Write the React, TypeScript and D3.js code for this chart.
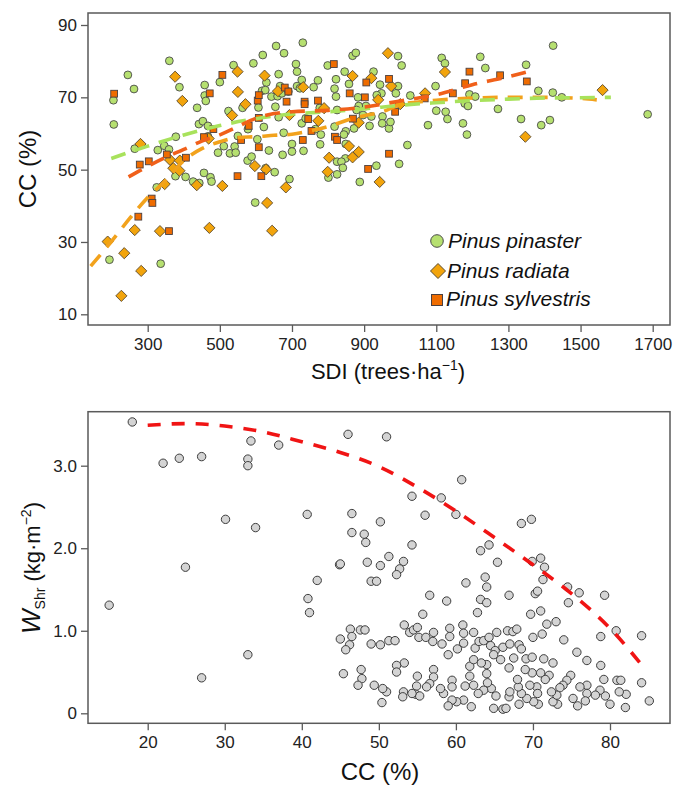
import React, { useEffect, useRef } from 'react'
import * as d3 from 'd3'

// --- top panel: SDI (trees/ha) vs canopy cover CC (%) ---
const pinaster: [number, number][] = [
  [205, 69.2], [206, 62.5], [245, 76.2], [262, 72.3], [264, 55.8], [328, 55.4], [346, 56.6], [359, 55.6],
  [360, 80.1], [388, 72.8], [378, 59.1], [377, 48.2], [325, 45.1], [194, 25.1], [336, 24.0], [405, 48.0],
  [426, 46.7], [443, 46.3], [437, 67.1], [458, 73.4], [458, 70.5], [461, 69.0], [442, 62.6], [453, 63.4],
  [467, 62.1], [467, 59.2], [456, 49.1], [474, 47.9], [477, 46.7], [495, 54.7], [511, 56.5], [500, 74.2],
  [524, 66.2], [538, 78.9], [528, 54.5], [541, 56.4], [544, 54.7], [550, 59.3], [563, 67.1], [578, 61.2],
  [577, 52.5], [588, 53.6], [593, 79.4], [598, 40.9], [607, 67.2], [604, 58.4], [619, 81.7], [617, 71.8],
  [629, 74.1], [626, 72.0], [622, 61.8], [627, 50.4], [643, 70.2], [636, 55.3], [656, 84.2], [663, 76.4],
  [667, 73.1], [660, 70.3], [654, 67.4], [663, 64.5], [652, 49.3], [678, 82.2], [672, 71.1], [677, 60.2],
  [674, 54.1], [690, 71.6], [693, 47.4], [700, 57.1], [700, 55.0], [711, 79.2], [714, 77.1], [714, 73.1],
  [722, 72.5], [727, 74.8], [730, 85.1], [727, 62.8], [732, 55.2], [738, 64.2], [760, 72.8], [772, 74.7],
  [778, 57.0], [777, 67.1], [765, 61.2], [780, 59.7], [799, 78.8], [801, 47.8], [822, 75.0], [818, 72.4],
  [822, 70.2], [825, 66.5], [818, 61.9], [825, 52.2], [825, 48.7], [846, 77.1], [858, 73.7], [868, 81.5],
  [877, 82.3], [883, 70.0], [926, 77.1], [944, 73.5], [948, 71.1], [935, 70.6], [951, 64.7], [950, 62.8],
  [969, 61.4], [973, 63.2], [994, 73.1], [994, 81.4], [1004, 78.8], [988, 71.1], [1028, 70.5], [920, 64.7],
  [915, 62.1], [897, 65.1], [905, 67.6], [885, 67.6], [879, 66.5], [872, 61.4], [849, 60.6], [844, 59.7],
  [849, 57.1], [848, 53.1], [837, 52.2], [841, 50.5], [934, 51.1], [997, 51.6], [1020, 56.8], [888, 46.6],
  [1100, 66.3], [1098, 73.1], [1115, 80.9], [1124, 79.4], [1126, 66.0], [1131, 64.0], [1077, 62.3],
  [1192, 70.8], [1208, 70.2], [1179, 68.3], [1188, 67.6], [1174, 62.8], [1185, 59.7], [1222, 81.2],
  [1236, 78.1], [1271, 66.8], [1349, 79.0], [1335, 64.0], [1383, 71.8], [1391, 62.3], [1415, 63.7],
  [1424, 84.3], [1423, 71.3], [1448, 70.0], [1686, 65.3],
]

const radiata: [number, number][] = [
  [280, 57.1], [362, 52.7], [376, 75.7], [396, 69.0], [371, 50.4], [388, 49.7], [389, 52.5], [347, 46.0],
  [264, 33.3], [334, 33.0], [189, 30.1], [235, 26.9], [282, 22.0], [227, 15.1], [436, 45.7], [469, 58.6],
  [471, 33.9], [507, 45.5], [534, 65.0], [549, 77.1], [550, 71.5], [571, 68.1], [597, 51.0], [624, 76.0],
  [628, 50.1], [631, 40.8], [645, 33.1], [661, 71.7], [683, 45.1], [693, 65.1], [731, 72.8], [773, 63.5],
  [789, 67.0], [803, 53.3], [799, 49.4], [868, 75.9], [920, 75.3], [939, 69.3], [975, 73.1], [966, 82.2],
  [1000, 68.1], [885, 63.0], [858, 56.5], [885, 54.9], [868, 53.4], [943, 46.6], [1124, 77.0], [1069, 71.1],
  [1347, 59.1], [1561, 72.0],
]

const sylvestris: [number, number][] = [
  [207, 71.0], [278, 51.4], [303, 52.3], [353, 54.2], [406, 53.3], [311, 42.0], [313, 40.8], [274, 37.0],
  [359, 33.0], [472, 71.1], [456, 59.0], [482, 61.2], [507, 76.2], [549, 48.2], [559, 58.2], [580, 62.1],
  [605, 69.1], [608, 70.6], [608, 64.3], [608, 56.2], [615, 48.2], [680, 72.7], [685, 68.8], [690, 71.6],
  [735, 68.8], [735, 68.1], [730, 58.2], [745, 64.0], [754, 60.7], [772, 69.1], [816, 79.2], [819, 59.1],
  [825, 58.2], [860, 71.1], [902, 70.0], [906, 74.1], [969, 75.1], [986, 66.0], [869, 64.1], [911, 50.2],
  [969, 54.4], [1068, 69.7], [1146, 71.1], [1180, 73.9], [1192, 77.1], [1277, 76.1], [1351, 74.4],
]

// fitted curves (dashed)
const pinasterFit: [number, number][] = [
  [199, 53.1], [300, 56.5], [400, 59.6], [500, 62.2], [600, 64.1], [700, 65.4], [800, 66.0], [900, 66.8],
  [1000, 67.8], [1100, 68.5], [1200, 69.1], [1300, 69.5], [1400, 69.8], [1500, 69.9], [1584, 70.0],
]
const radiataFit: [number, number][] = [
  [142, 23.3], [200, 30.2], [250, 36.5], [300, 42.3], [350, 47.0], [400, 52.5], [450, 55.8], [500, 57.7],
  [550, 58.9], [600, 59.1], [650, 59.5], [700, 59.8], [750, 60.7], [800, 61.9], [850, 63.6], [900, 64.9],
  [950, 66.0], [1000, 68.0], [1050, 68.7], [1100, 69.2], [1200, 69.8], [1300, 70.0], [1400, 70.0],
  [1500, 69.7], [1545, 69.3],
]
const sylvestrisFit: [number, number][] = [
  [247, 48.0], [300, 50.9], [350, 53.4], [400, 55.6], [450, 57.9], [500, 59.6], [550, 61.9], [600, 64.2],
  [650, 65.5], [700, 66.0], [800, 66.4], [900, 67.3], [1000, 69.0], [1100, 70.7], [1200, 73.5], [1300, 75.7],
  [1351, 77.0],
]

const sdiTicks = [300, 500, 700, 900, 1100, 1300, 1500, 1700]
const ccTicks = [10, 30, 50, 70, 90]

// --- bottom panel: CC (%) vs shrub biomass W_Shr (kg/m2) ---
const shrub: [number, number][] = [
  [18.0, 3.53], [15.0, 1.31], [22.0, 3.03], [24.1, 3.09], [27.0, 3.11], [24.9, 1.77], [27.0, 0.43], [30.1, 2.35],
  [33.4, 3.30], [33.0, 3.08], [33.0, 3.00], [34.0, 2.25], [33.0, 0.71], [37.0, 3.25], [40.7, 2.41], [40.8, 1.39],
  [41.0, 1.22], [42.0, 1.61], [44.9, 1.80],
  [46.0, 3.38], [51.0, 3.35], [60.75, 2.83], [54.3, 2.63], [58.1, 2.61], [46.5, 2.42], [50.2, 2.32], [56.0, 2.40],
  [60.0, 2.41], [68.5, 2.30], [69.8, 2.35], [46.5, 2.19], [48.1, 2.17], [48.3, 2.07], [54.3, 2.04], [63.2, 1.97],
  [64.3, 2.04], [45.0, 1.81], [48.5, 1.83], [50.2, 1.79], [51.3, 1.90], [53.2, 1.84], [52.7, 1.75], [52.3, 1.68],
  [49.0, 1.60], [49.7, 1.60], [65.4, 1.83], [69.9, 1.84], [71.0, 1.88], [71.5, 1.77], [71.3, 1.62], [61.3, 1.58],
  [63.8, 1.65], [64.0, 1.53], [56.6, 1.43], [58.8, 1.36], [63.2, 1.38], [64.0, 1.34], [66.9, 1.43], [70.3, 1.45],
  [70.6, 1.48], [74.5, 1.53], [76.0, 1.46], [79.3, 1.43], [74.6, 1.34], [62.8, 1.22], [55.7, 1.20], [69.7, 1.20],
  [71.0, 1.24], [71.8, 1.08], [73.0, 1.11], [80.8, 1.00], [84.1, 0.94], [78.8, 0.93], [74.0, 0.89], [70.0, 0.92],
  [71.2, 0.96], [45.0, 0.90], [46.3, 1.02], [47.6, 1.01], [48.2, 1.01], [46.5, 0.93], [46.2, 0.83], [45.7, 0.77],
  [49.0, 0.84], [50.2, 0.83], [51.3, 0.88], [52.1, 0.88], [53.3, 1.07], [54.0, 0.98], [54.5, 1.01], [55.0, 1.04],
  [55.2, 0.92], [56.1, 0.92], [57.1, 0.98], [57.0, 0.87], [58.2, 0.84], [59.2, 1.03], [59.2, 0.93], [59.0, 0.71],
  [60.2, 0.78], [61.0, 0.85], [60.9, 1.07], [61.0, 0.97], [62.3, 0.98], [62.5, 0.79], [63.0, 0.87], [63.6, 0.88],
  [64.3, 0.92], [65.3, 0.98], [64.5, 0.82], [65.1, 0.76], [64.9, 0.71], [65.8, 0.65], [66.1, 0.80], [66.7, 1.00],
  [67.4, 0.99], [67.9, 1.02], [67.0, 0.84], [68.2, 0.83], [68.5, 0.78], [67.5, 0.67], [69.1, 0.66], [69.9, 0.68],
  [71.4, 0.66], [72.6, 0.61], [75.7, 0.74], [77.0, 0.64], [78.8, 0.58], [79.2, 0.41], [84.1, 0.37], [80.9, 0.40],
  [81.4, 0.40], [85.1, 0.15], [82.0, 0.07], [80.0, 0.11], [82.1, 0.23], [81.2, 0.26], [79.4, 0.21], [78.7, 0.28],
  [78.1, 0.22], [77.0, 0.34], [77.0, 0.24], [76.8, 0.15], [75.8, 0.09], [76.1, 0.32], [75.2, 0.18], [74.9, 0.46],
  [74.4, 0.40], [73.9, 0.34], [73.5, 0.31], [73.2, 0.11], [72.6, 0.14], [73.1, 0.22], [72.4, 0.26], [72.1, 0.46],
  [71.6, 0.41], [71.0, 0.49], [70.5, 0.32], [70.6, 0.24], [70.7, 0.11], [70.1, 0.14], [69.6, 0.34], [69.9, 0.49],
  [69.0, 0.53], [69.2, 0.18], [68.5, 0.24], [68.2, 0.11], [68.1, 0.32], [68.0, 0.41], [66.9, 0.20], [67.0, 0.26],
  [66.9, 0.55], [66.1, 0.05], [66.5, 0.06], [64.9, 0.06], [65.2, 0.21], [64.6, 0.30], [64.1, 0.37], [64.0, 0.48],
  [64.0, 0.59], [63.3, 0.61], [63.6, 0.28], [62.9, 0.24], [62.3, 0.34], [62.0, 0.08], [61.8, 0.57], [61.8, 0.45],
  [62.3, 0.65], [61.2, 0.33], [61.0, 0.16], [60.1, 0.14], [59.5, 0.16], [59.0, 0.09], [59.5, 0.40], [59.5, 0.32],
  [58.4, 0.24], [58.0, 0.30], [57.1, 0.53], [57.1, 0.44], [56.6, 0.36], [56.2, 0.32], [55.0, 0.45], [54.9, 0.33],
  [54.8, 0.23], [55.3, 0.21], [54.3, 0.24], [53.2, 0.26], [53.1, 0.20], [53.3, 0.61], [52.3, 0.58], [52.3, 0.50],
  [51.0, 0.26], [50.5, 0.30], [50.4, 0.13], [49.4, 0.34], [47.7, 0.53], [47.8, 0.42], [47.3, 0.34], [45.4, 0.48],
]

const shrubFit: [number, number][] = [
  [20, 3.49], [25, 3.51], [30, 3.48], [35, 3.41], [40, 3.29], [45, 3.16], [50, 2.99], [55, 2.74],
  [60, 2.45], [65, 2.13], [70, 1.80], [75, 1.45], [80, 1.03], [84, 0.6],
]

const ccTicksBottom = [20, 30, 40, 50, 60, 70, 80]
const wTicks = [0, 1, 2, 3]

const FONT = "'Liberation Sans', Arial, sans-serif"
const AXIS = '#5a5a5a'

function App() {
  const svgRef = useRef<SVGSVGElement>(null)

  useEffect(() => {
    const svg = d3.select(svgRef.current)
    svg.selectAll('*').remove()

    // ---------- top panel ----------
    const t = { left: 88, right: 670, top: 13, bottom: 325 }
    const x1 = d3.scaleLinear().domain([300, 1700]).range([147.7, 652.7])
    const y1 = d3.scaleLinear().domain([10, 90]).range([314.3, 25])

    const styleAxis = (g: any) => {
      g.select('.domain').remove()
      g.attr('font-size', 17).attr('font-family', FONT)
      g.selectAll('line').attr('stroke', AXIS).attr('stroke-width', 1.3)
      g.selectAll('text').attr('fill', '#222')
    }

    svg.append('g')
      .attr('transform', `translate(0,${t.bottom})`)
      .call(d3.axisBottom(x1).tickValues(sdiTicks).tickSize(7).tickPadding(6).tickFormat(d3.format('d')))
      .call(styleAxis)
    svg.append('g')
      .attr('transform', `translate(${t.left},0)`)
      .call(d3.axisLeft(y1).tickValues(ccTicks).tickSize(7).tickPadding(4))
      .call(styleAxis)

    const top = svg.append('g')
    top.selectAll('.pp').data(pinaster).join('circle')
      .attr('cx', d => x1(d[0])).attr('cy', d => y1(d[1])).attr('r', 3.9)
      .attr('fill', '#b6e070').attr('stroke', '#4a4a4a').attr('stroke-width', 0.9)
    top.selectAll('.pr').data(radiata).join('path')
      .attr('d', 'M0,-5.6L5.6,0L0,5.6L-5.6,0Z')
      .attr('transform', d => `translate(${x1(d[0])},${y1(d[1])})`)
      .attr('fill', '#f2a40c').attr('stroke', '#5a4a30').attr('stroke-width', 0.9)
    top.selectAll('.ps').data(sylvestris).join('rect')
      .attr('x', d => x1(d[0]) - 3.4).attr('y', d => y1(d[1]) - 3.4)
      .attr('width', 6.8).attr('height', 6.8)
      .attr('fill', '#ef6c00').attr('stroke', '#4a4040').attr('stroke-width', 0.9)

    const fitLine = d3.line<[number, number]>()
      .x(d => x1(d[0])).y(d => y1(d[1])).curve(d3.curveMonotoneX)
    const fits: [[number, number][], string][] = [
      [radiataFit, '#f2a21c'],
      [pinasterFit, '#a8e25c'],
      [sylvestrisFit, '#f0601a'],
    ]
    fits.forEach(([data, color]) => {
      top.append('path').attr('d', fitLine(data))
        .attr('fill', 'none').attr('stroke', color)
        .attr('stroke-width', 3.6).attr('stroke-dasharray', '15 10')
    })

    svg.append('rect')
      .attr('x', t.left).attr('y', t.top)
      .attr('width', t.right - t.left).attr('height', t.bottom - t.top)
      .attr('fill', 'none').attr('stroke', AXIS).attr('stroke-width', 1.5)

    // legend
    const lg = svg.append('g').attr('font-family', FONT).attr('font-size', 21)
      .attr('font-style', 'italic').attr('fill', '#111')
    lg.append('circle').attr('cx', 437).attr('cy', 241).attr('r', 6.3)
      .attr('fill', '#b6e070').attr('stroke', '#4a4a4a').attr('stroke-width', 1)
    lg.append('path').attr('d', 'M0,-7.5L7.5,0L0,7.5L-7.5,0Z')
      .attr('transform', 'translate(438,271)')
      .attr('fill', '#f2a40c').attr('stroke', '#5a4a30').attr('stroke-width', 1)
    lg.append('rect').attr('x', 431.5).attr('y', 294.5).attr('width', 11).attr('height', 11)
      .attr('fill', '#ef6c00').attr('stroke', '#4a4040').attr('stroke-width', 1)
    lg.append('text').attr('x', 448).attr('y', 248).text('Pinus pinaster')
    lg.append('text').attr('x', 447).attr('y', 278).text('Pinus radiata')
    lg.append('text').attr('x', 446).attr('y', 306).text('Pinus sylvestris')

    // titles
    const xt = svg.append('text').attr('x', 388).attr('y', 379)
      .attr('text-anchor', 'middle').attr('font-family', FONT).attr('font-size', 22).attr('fill', '#111')
    xt.append('tspan').text('SDI (trees·ha')
    xt.append('tspan').attr('font-size', 14).attr('dy', -9).text('−1')
    xt.append('tspan').attr('dy', 9).text(')')

    svg.append('text')
      .attr('transform', 'translate(36,169) rotate(-90)')
      .attr('text-anchor', 'middle').attr('font-family', FONT).attr('font-size', 24).attr('fill', '#111')
      .text('CC (%)')

    // ---------- bottom panel ----------
    const b = { left: 88, right: 670, top: 411.7, bottom: 723.3 }
    const x2 = d3.scaleLinear().domain([20, 80]).range([147.7, 610])
    const y2 = d3.scaleLinear().domain([0, 3]).range([713.3, 465.7])

    svg.append('g')
      .attr('transform', `translate(0,${b.bottom})`)
      .call(d3.axisBottom(x2).tickValues(ccTicksBottom).tickSize(7).tickPadding(6))
      .call(styleAxis)
    svg.append('g')
      .attr('transform', `translate(${b.left},0)`)
      .call(d3.axisLeft(y2).tickValues(wTicks).tickSize(7).tickPadding(4)
        .tickFormat(d => (+d === 0 ? '0' : d3.format('.1f')(+d))))
      .call(styleAxis)

    svg.append('g').selectAll('circle').data(shrub).join('circle')
      .attr('cx', d => x2(d[0])).attr('cy', d => y2(d[1])).attr('r', 4.2)
      .attr('fill', '#d4d4d4').attr('stroke', '#3c3c3c').attr('stroke-width', 1)

    const shrubLine = d3.line<[number, number]>()
      .x(d => x2(d[0])).y(d => y2(d[1])).curve(d3.curveMonotoneX)
    svg.append('path').attr('d', shrubLine(shrubFit))
      .attr('fill', 'none').attr('stroke', '#f01414')
      .attr('stroke-width', 3.6).attr('stroke-dasharray', '13 11')

    svg.append('rect')
      .attr('x', b.left).attr('y', b.top)
      .attr('width', b.right - b.left).attr('height', b.bottom - b.top)
      .attr('fill', 'none').attr('stroke', AXIS).attr('stroke-width', 1.5)

    svg.append('text').attr('x', 380).attr('y', 780)
      .attr('text-anchor', 'middle').attr('font-family', FONT).attr('font-size', 24).attr('fill', '#111')
      .text('CC (%)')

    const yt = svg.append('text')
      .attr('transform', 'translate(40,568) rotate(-90)')
      .attr('text-anchor', 'middle').attr('font-family', FONT).attr('font-size', 22).attr('fill', '#111')
    yt.append('tspan').attr('font-style', 'italic').attr('font-size', 26).text('W')
    yt.append('tspan').attr('font-size', 14).attr('dy', 5).text('Shr')
    yt.append('tspan').attr('dy', -5).text(' (kg·m')
    yt.append('tspan').attr('font-size', 14).attr('dy', -9).text('−2')
    yt.append('tspan').attr('dy', 9).text(')')
  }, [])

  return (
    <svg ref={svgRef} width={678} height={787}
      style={{ position: 'absolute', left: 0, top: 0, background: '#fff' }} />
  )
}

export default App
